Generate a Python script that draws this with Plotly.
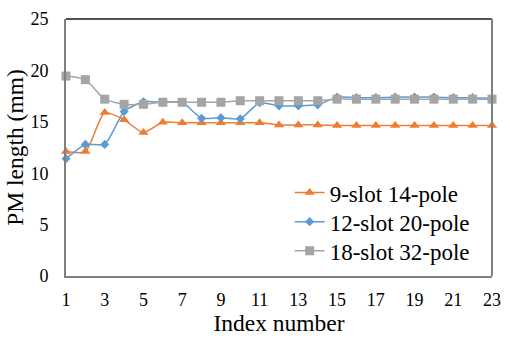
import plotly.graph_objects as go

# Index numbers of the optimisation steps
index_numbers = list(range(1, 24))

# PM length (mm) for each slot/pole combination
pm_9s14p = [12.1, 12.1, 15.9, 15.2, 13.95, 14.95, 14.9, 14.9, 14.9, 14.9, 14.9,
            14.7, 14.7, 14.7, 14.65, 14.65, 14.65, 14.65, 14.65, 14.65, 14.65, 14.65, 14.65]
pm_12s20p = [11.4, 12.8, 12.8, 16.0, 16.95, 16.9, 16.9, 15.35, 15.4, 15.3, 16.85,
             16.55, 16.55, 16.65, 17.4, 17.35, 17.35, 17.4, 17.4, 17.4, 17.35, 17.35, 17.3]
pm_18s32p = [19.45, 19.1, 17.2, 16.7, 16.7, 16.9, 16.9, 16.9, 16.9, 17.05, 17.05,
             17.05, 17.05, 17.05, 17.2, 17.2, 17.2, 17.2, 17.2, 17.2, 17.2, 17.2, 17.2]

series_names = ["9-slot 14-pole", "12-slot 20-pole", "18-slot 32-pole"]
x_ticks = list(range(1, 24, 2))
y_ticks = [0, 5, 10, 15, 20, 25]

FONT = "Liberation Serif"

styles = [
    dict(color="#ED7D31", symbol="triangle-up", size=9, legend="legend"),
    dict(color="#5B9BD5", symbol="diamond", size=7, legend="legend2"),
    dict(color="#A5A5A5", symbol="square", size=9, legend="legend3"),
]

fig = go.Figure()
for name, ys, st in zip(series_names, [pm_9s14p, pm_12s20p, pm_18s32p], styles):
    fig.add_trace(go.Scatter(
        x=index_numbers, y=ys, name=name, mode="lines+markers",
        line=dict(color=st["color"], width=1.5, shape="spline", smoothing=0.6),
        marker=dict(color=st["color"], symbol=st["symbol"], size=st["size"]),
        cliponaxis=False, legend=st["legend"], showlegend=True,
    ))

legend_common = dict(
    x=0.525, xanchor="left", yanchor="middle",
    font=dict(family=FONT, size=23, color="#000000"),
    bgcolor="rgba(0,0,0,0)", borderwidth=0, itemwidth=30,
)

fig.update_layout(
    width=510, height=339,
    margin=dict(l=66, r=9, t=13, b=61),
    paper_bgcolor="white", plot_bgcolor="white",
    font=dict(family=FONT, color="#000000"),
    showlegend=True,
    legend=dict(legend_common, y=(278 - 192) / 265),
    legend2=dict(legend_common, y=(278 - 222) / 265),
    legend3=dict(legend_common, y=(278 - 252) / 265),
    xaxis=dict(
        range=[1, 23], tickvals=x_ticks, ticktext=[str(v) for v in x_ticks],
        showgrid=False, zeroline=False, showline=True, linecolor="#808080",
        linewidth=2, ticks="", ticklabelstandoff=6,
        tickfont=dict(family=FONT, size=18, color="#000000"),
        title=dict(text="Index number", font=dict(family=FONT, size=23.5, color="#000000"),
                   standoff=4),
    ),
    yaxis=dict(
        range=[0, 25], tickvals=y_ticks, ticktext=[str(v) for v in y_ticks],
        showgrid=False, zeroline=False, showline=True, linecolor="#808080",
        linewidth=2, ticks="", ticklabelstandoff=12,
        tickfont=dict(family=FONT, size=18, color="#000000"),
        title=dict(text="PM length (mm)", font=dict(family=FONT, size=23.5, color="#000000"),
                   standoff=0),
    ),
    shapes=[
        dict(type="line", xref="paper", yref="paper", x0=0, x1=1, y0=1, y1=1,
             line=dict(color="#1a1a1a", width=1.5)),
        dict(type="line", xref="paper", yref="paper", x0=1, x1=1, y0=0, y1=1,
             line=dict(color="#808080", width=2)),
    ],
)

fig.write_html("out.html")
